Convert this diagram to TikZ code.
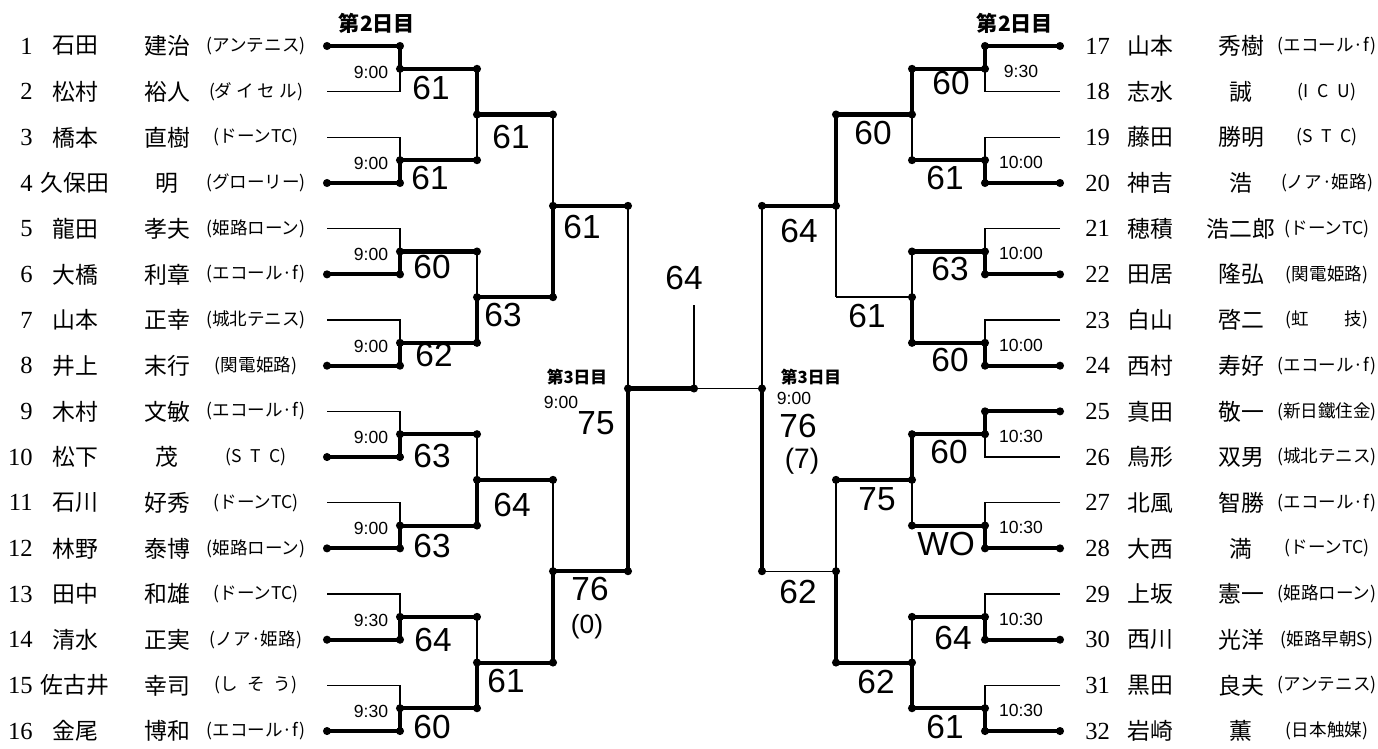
\documentclass[tikz,border=0pt]{standalone}
\usepackage{fontspec}
\setmainfont{Liberation Serif}
\setsansfont{Liberation Sans}
\newfontfamily\jp{Noto Sans CJK JP}
\usetikzlibrary{calc}
\tikzset{
  wire/.style={line width=0.8pt},
  win/.style={line width=2.3pt, line cap=round, line join=round},
  num/.style={font=\fontsize{14}{16}\selectfont, inner sep=0pt},
  pname/.style={font=\jp\fontsize{13}{15}\selectfont, inner sep=0pt},
  club/.style={font=\jp\fontsize{10}{12}\selectfont, inner sep=0pt},
  time/.style={font=\sffamily\fontsize{10}{12}\selectfont, inner sep=0pt, text height=0.72em, text depth=0pt},
  score/.style={font=\sffamily\fontsize{19}{21}\selectfont, inner sep=0pt, text height=0.72em, text depth=0pt},
  hdr/.style={font=\jp\bfseries\fontsize{12}{14}\selectfont, inner sep=0pt},
}
% thick line of a winner, with a dot on every corner
\newcommand{\winpath}[2]{%
  \draw[win] (#1) \foreach \p in {#2}{ -- (\p)};
  \foreach \p in {#1,#2} \fill (\p) circle (2.3pt);
}

\begin{document}
\begin{tikzpicture}[x=0.02cm, y=-0.02cm]
\useasboundingbox (0,0) rectangle (1378,749);

% players, left half
\foreach \n/\sur/\giv/\cl in {1/石田/建治/アンテニス, 2/松村/裕人/{ダ イ セ ル},
    3/橋本/直樹/ドーンTC, 4/久保田/明/グローリー, 5/龍田/孝夫/姫路ローン,
    6/大橋/利章/エコール·f, 7/山本/正幸/城北テニス, 8/井上/末行/関電姫路,
    9/木村/文敏/エコール·f, 10/松下/茂/{S\enspace T\enspace C}, 11/石川/好秀/ドーンTC,
    12/林野/泰博/姫路ローン, 13/田中/和雄/ドーンTC, 14/清水/正実/ノア·姫路,
    15/佐古井/幸司/{し\enspace そ\enspace う}, 16/金尾/博和/エコール·f}{
  \node[num, anchor=east] (n\n) at (33, {46+(\n-1)*45.67}) {\n};
  \node[pname] (s\n) at (75, {46+(\n-1)*45.67}) {\sur};
  \node[pname] (g\n) at (167, {46+(\n-1)*45.67}) {\giv};
  \node[club] (t\n) at (256, {46+(\n-1)*45.67}) {(\cl)};
  \coordinate (l\n) at (327, {46+(\n-1)*45.67});
  \coordinate (lv\n) at (400, {46+(\n-1)*45.67});
}

% players, right half
\foreach \n/\sur/\giv/\cl in {17/山本/秀樹/エコール·f, 18/志水/誠/{I\enspace C\enspace U},
    19/藤田/勝明/{S\enspace T\enspace C}, 20/神吉/浩/ノア·姫路, 21/穂積/浩二郎/ドーンTC,
    22/田居/隆弘/関電姫路, 23/白山/啓二/{虹\hspace{2em}技}, 24/西村/寿好/エコール·f,
    25/真田/敬一/新日鐵住金, 26/鳥形/双男/城北テニス, 27/北風/智勝/エコール·f,
    28/大西/満/ドーンTC, 29/上坂/憲一/姫路ローン, 30/西川/光洋/姫路早朝S,
    31/黒田/良夫/アンテニス, 32/岩崎/薫/日本触媒}{
  \node[num, anchor=west] (n\n) at (1085, {46+(\n-17)*45.67}) {\n};
  \node[pname] (s\n) at (1150, {46+(\n-17)*45.67}) {\sur};
  \node[pname] (g\n) at (1241, {46+(\n-17)*45.67}) {\giv};
  \node[club] (t\n) at (1327, {46+(\n-17)*45.67}) {(\cl)};
  \coordinate (r\n) at (1060, {46+(\n-17)*45.67});
  \coordinate (rv\n) at (985, {46+(\n-17)*45.67});
}

% bracket points
\foreach \k in {1,...,8}{
  \coordinate (lm\k) at (400, {46+(2*\k-1.5)*45.67});
  \coordinate (lo\k) at (477, {46+(2*\k-1.5)*45.67});
  \coordinate (rm\k) at (985, {46+(2*\k-1.5)*45.67});
  \coordinate (ro\k) at (912, {46+(2*\k-1.5)*45.67});
}
\foreach \k in {1,...,4}{
  \coordinate (ln\k) at (477, {46+(4*\k-2.5)*45.67});
  \coordinate (lq\k) at (553, {46+(4*\k-2.5)*45.67});
  \coordinate (rn\k) at (912, {46+(4*\k-2.5)*45.67});
  \coordinate (rq\k) at (836, {46+(4*\k-2.5)*45.67});
}
\foreach \k in {1,2}{
  \coordinate (lr\k) at (553, {46+(8*\k-4.5)*45.67});
  \coordinate (ls\k) at (628, {46+(8*\k-4.5)*45.67});
  \coordinate (rr\k) at (836, {46+(8*\k-4.5)*45.67});
  \coordinate (rs\k) at (762, {46+(8*\k-4.5)*45.67});
}
\coordinate (lf) at (628, 388.5);
\coordinate (rf) at (762, 388.5);
\coordinate (ctr) at (694, 388.5);
\coordinate (tick) at (694, 305);

% thin bracket
\foreach \a/\b [count=\k] in {1/2,3/4,5/6,7/8,9/10,11/12,13/14,15/16}{
  \draw[wire] (l\a) -- (lv\a) -- (lv\b) -- (l\b);
  \draw[wire] (lm\k) -- (lo\k);
}
\foreach \a/\b [count=\k] in {17/18,19/20,21/22,23/24,25/26,27/28,29/30,31/32}{
  \draw[wire] (r\a) -- (rv\a) -- (rv\b) -- (r\b);
  \draw[wire] (rm\k) -- (ro\k);
}
\foreach \a/\b [count=\k] in {1/2,3/4,5/6,7/8}{
  \draw[wire] (lo\a) -- (lo\b);
  \draw[wire] (ln\k) -- (lq\k);
  \draw[wire] (ro\a) -- (ro\b);
  \draw[wire] (rn\k) -- (rq\k);
}
\foreach \a/\b [count=\k] in {1/2,3/4}{
  \draw[wire] (lq\a) -- (lq\b);
  \draw[wire] (lr\k) -- (ls\k);
  \draw[wire] (rq\a) -- (rq\b);
  \draw[wire] (rr\k) -- (rs\k);
}
\draw[wire] (ls1) -- (ls2);
\draw[wire] (rs1) -- (rs2);
\draw[wire] (lf) -- (rf);
\draw[wire] (ctr) -- (tick);

% winners
\winpath{l1}{lv1,lm1,lo1,ln1,lq1}
\winpath{l4}{lv4,lm2,lo2}
\winpath{l6}{lv6,lm3,lo3}
\winpath{l8}{lv8,lm4,lo4,ln2,lq2,lr1,ls1}
\winpath{l10}{lv10,lm5,lo5}
\winpath{l12}{lv12,lm6,lo6,ln3,lq3}
\winpath{l14}{lv14,lm7,lo7}
\winpath{l16}{lv16,lm8,lo8,ln4,lq4,lr2,ls2,lf,ctr}
\winpath{r17}{rv17,rm1,ro1,rn1,rq1,rr1,rs1}
\winpath{r20}{rv20,rm2,ro2}
\winpath{r22}{rv22,rm3,ro3}
\winpath{r24}{rv24,rm4,ro4,rn2}
\winpath{r25}{rv25,rm5,ro5,rn3,rq3}
\winpath{r28}{rv28,rm6,ro6}
\winpath{r30}{rv30,rm7,ro7}
\winpath{r32}{rv32,rm8,ro8,rn4,rq4,rr2}
\winpath{rs2}{rf}

% match times
\foreach \k/\t in {1/9:00,2/9:00,3/9:00,4/9:00,5/9:00,6/9:00,7/9:30,8/9:30}
  \node[time] (lt\k) at ($(lm\k)+(-29,3)$) {\t};
\foreach \k/\t in {1/9:30,2/10:00,3/10:00,4/10:00,5/10:30,6/10:30,7/10:30,8/10:30}
  \node[time] (rt\k) at ($(rm\k)+(36,2)$) {\t};

% day headings
\node[hdr] (d2l) at (377,23) {第2日目};
\node[hdr] (d2r) at (1015,23) {第2日目};
\node[hdr, font=\jp\bfseries\fontsize{9.5}{11}\selectfont] (d3l) at (577,377) {第3日目};
\node[hdr, font=\jp\bfseries\fontsize{9.5}{11}\selectfont] (d3r) at (811,377) {第3日目};
\node[time] (sfl) at (561,402) {9:00};
\node[time] (sfr) at (794,398) {9:00};

% scores
\foreach \px/\py/\t [count=\k] in {431/93/61, 430/183/61, 432/272/60, 434/360/62,
    432/461/63, 432/551/63, 433/645/64, 432/732/60, 511/142/61, 503/320/63,
    512/510/64, 506/686/61, 582/232/61, 590/594/76, 596/428/75}
  \node[score] (sc\k) at (\px,\py) {\t};
\node[score, font=\sffamily\fontsize{15}{17}\selectfont] (sc16) at (587,627) {(0)};
\foreach \px/\py/\t [count=\k] in {951/88/60, 945/183/61, 950/274/63, 950/365/60,
    949/457/60, 946/549/WO, 953/643/64, 945/732/61, 873/138/60, 867/321/61,
    877/504/75, 876/687/62, 799/236/64, 798/597/62, 798/431/76}
  \node[score] (sd\k) at (\px,\py) {\t};
\node[score, font=\sffamily\fontsize{16}{18}\selectfont] (sd16) at (802,462) {(7)};
\node[score] (fin) at (684,283) {64};
\end{tikzpicture}
\end{document}
